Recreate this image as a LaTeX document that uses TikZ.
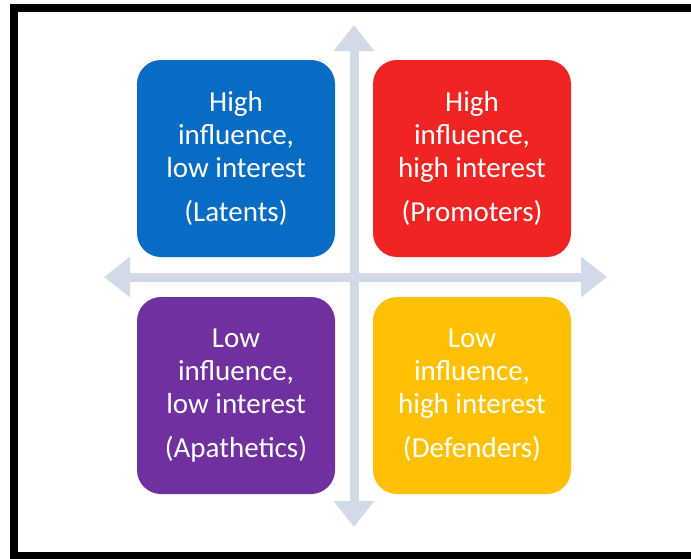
\documentclass[tikz,border=0pt]{standalone}
\usepackage{fontspec}
\setmainfont{Carlito}
\usetikzlibrary{arrows.meta}
\definecolor{qblue}{RGB}{8,108,196}
\definecolor{qred}{RGB}{240,36,34}
\definecolor{qpurple}{RGB}{112,48,160}
\definecolor{qyellow}{RGB}{254,192,2}
\definecolor{axisgray}{RGB}{210,218,232}
\tikzset{
  quad/.style={rounded corners=24pt, minimum width=198pt, minimum height=197pt,
    inner sep=0pt, text=white, align=center,
    font=\fontsize{29}{33}\selectfont},
  axis/.style={draw=axisgray, line width=9pt,
    {Triangle[width=39pt,length=26pt]}-{Triangle[width=39pt,length=26pt]}},
  frame/.style={draw=black, line width=8pt}
}
\begin{document}
\begin{tikzpicture}[x=1pt,y=-1pt]
  \useasboundingbox (0,0) rectangle (691,558);
  \clip (0,0) rectangle (691,558);
  \fill[white] (0,0) rectangle (691,558);
  % outer black frame (runs past the right edge)
  \draw[frame] (14,8) rectangle (730,556);

  % axes
  \coordinate (vtop) at (354,25);
  \coordinate (vbot) at (354,527);
  \coordinate (hleft) at (104,277);
  \coordinate (hright) at (607,277);
  \draw[axis] (vbot) -- (vtop);
  \draw[axis] (hleft) -- (hright);

  % quadrants
  \node[quad, fill=qblue] (latents) at (236,158.5)
    {High\\influence,\\low interest\\[11pt](Latents)};
  \node[quad, fill=qred] (promoters) at (472,158.5)
    {High\\influence,\\high interest\\[11pt](Promoters)};
  \node[quad, fill=qpurple] (apathetics) at (236,395.5)
    {Low\\influence,\\low interest\\[11pt](Apathetics)};
  \node[quad, fill=qyellow] (defenders) at (472,395.5)
    {Low\\influence,\\high interest\\[11pt](Defenders)};
\end{tikzpicture}
\end{document}
